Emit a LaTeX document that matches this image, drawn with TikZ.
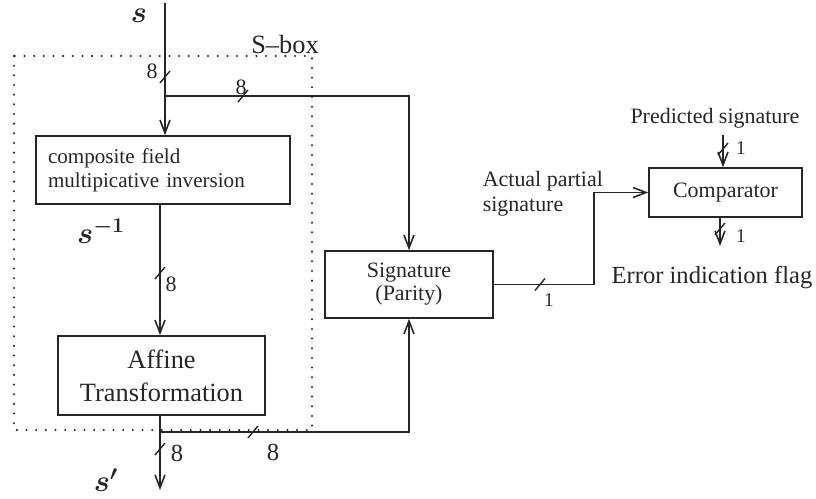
\documentclass[tikz,border=0pt]{standalone}
\usepackage{amsmath}
\usepackage{fontspec}
\setmainfont{Liberation Serif}
\usetikzlibrary{
	arrows.meta,
	positioning,
}
\tikzset{block/.style={
	draw,
	rectangle,
	inner sep=0mm,
	line width=0.9pt,
	align=center,
	font=\fontsize{12.5}{13}\selectfont,
},
lbl/.style={
	inner sep=0mm,
	font=\fontsize{12.5}{14}\selectfont,
},
big lbl/.style={
	inner sep=0mm,
	font=\fontsize{17.28}{20}\selectfont,
},
bus/.style={
	line width=0.8pt,
},
sbox line/.style={
	line width=1.3pt,
	line cap=round,
	dash pattern=on 0pt off 5.5pt,
},
}

\begin{document}
\begin{tikzpicture}[x=0.02cm, y=-0.02cm, line width=0.9pt, black!85,
	>={Straight Barb[length=2.6mm,width=2mm]}]
\useasboundingbox (0,0) rectangle (816,499);

% S-box frame
\draw[sbox line] (14,56) rectangle (312,430);
\node[lbl, font=\fontsize{15}{17}\selectfont] (sb) at (285,44) {S\textendash box};

\node[block, minimum width=5.08cm, minimum height=1.36cm, text width=4.6cm,
	align=left, font=\fontsize{12}{13.6}\selectfont] (inv) at (163,170)
	{composite field\\multipicative inversion};
\node[block, minimum width=4.14cm, minimum height=1.58cm,
	font=\fontsize{15}{18.7}\selectfont] (aff) at (161.5,375.5) {Affine\\Transformation};
\node[block, minimum width=3.36cm, minimum height=1.34cm] (sig) at (409,284.5) {Signature\\(Parity)};
\node[block, minimum width=3.06cm, minimum height=0.98cm] (cmp) at (725.5,192.5) {Comparator};

\coordinate (in) at (165,3);
\coordinate (split) at (165,96);
\coordinate (join) at (160,432);
\coordinate (out) at (160,490);
\coordinate (pred) at (723,135);
\coordinate (flag) at (720,246);

\draw[->] (in) -- (split) -- (split |- inv.north);
\draw[->] (split) -| (sig.north);
\draw[->] (inv.south -| join) -- (join |- aff.north);
\draw[->] (aff.south -| join) -- (out);
\draw[->] (join) -| (sig.south);
\draw[->] (sig.east) -- ++(100,0) |- (cmp.west);
\draw[->] (pred) -- (pred |- cmp.north);
\draw[->] (cmp.south -| flag) -- (flag);

% bus width marks
\foreach \x/\y in {165/77, 243/96, 160/273, 160/449, 253/432, 540/284.5, 723/149, 720/229}{
	\draw[bus] (\x,\y) ++(-5,6) -- ++(10,-12);
}

\node[big lbl] (s) at (139,16) {$\boldsymbol{s}$};
\node[big lbl] (sinv) at (101,231) {$\boldsymbol{s}^{\boldsymbol{-1}}$};
\node[big lbl] (sp) at (106,480) {$\boldsymbol{s'}$};

\node[lbl] (w1) at (152,71) {8};
\node[lbl] (w2) at (241,87) {8};
\node[lbl] (w3) at (171,284) {8};
\node[lbl, font=\fontsize{14}{16}\selectfont] (w4) at (177,453) {8};
\node[lbl, font=\fontsize{14}{16}\selectfont] (w5) at (273,452) {8};
\node[lbl, font=\fontsize{11}{13}\selectfont] (w6) at (549,300) {1};
\node[lbl, font=\fontsize{11}{13}\selectfont] (w7) at (741,148) {1};
\node[lbl, font=\fontsize{11}{13}\selectfont] (w8) at (741,236) {1};

\node[lbl, anchor=west, align=left] (act) at (482,194) {Actual partial\\signature};
\node[lbl] (prd) at (715,118) {Predicted signature};
\node[lbl, font=\fontsize{14}{16}\selectfont] (err) at (712,278) {Error indication flag};
\end{tikzpicture}
\end{document}
